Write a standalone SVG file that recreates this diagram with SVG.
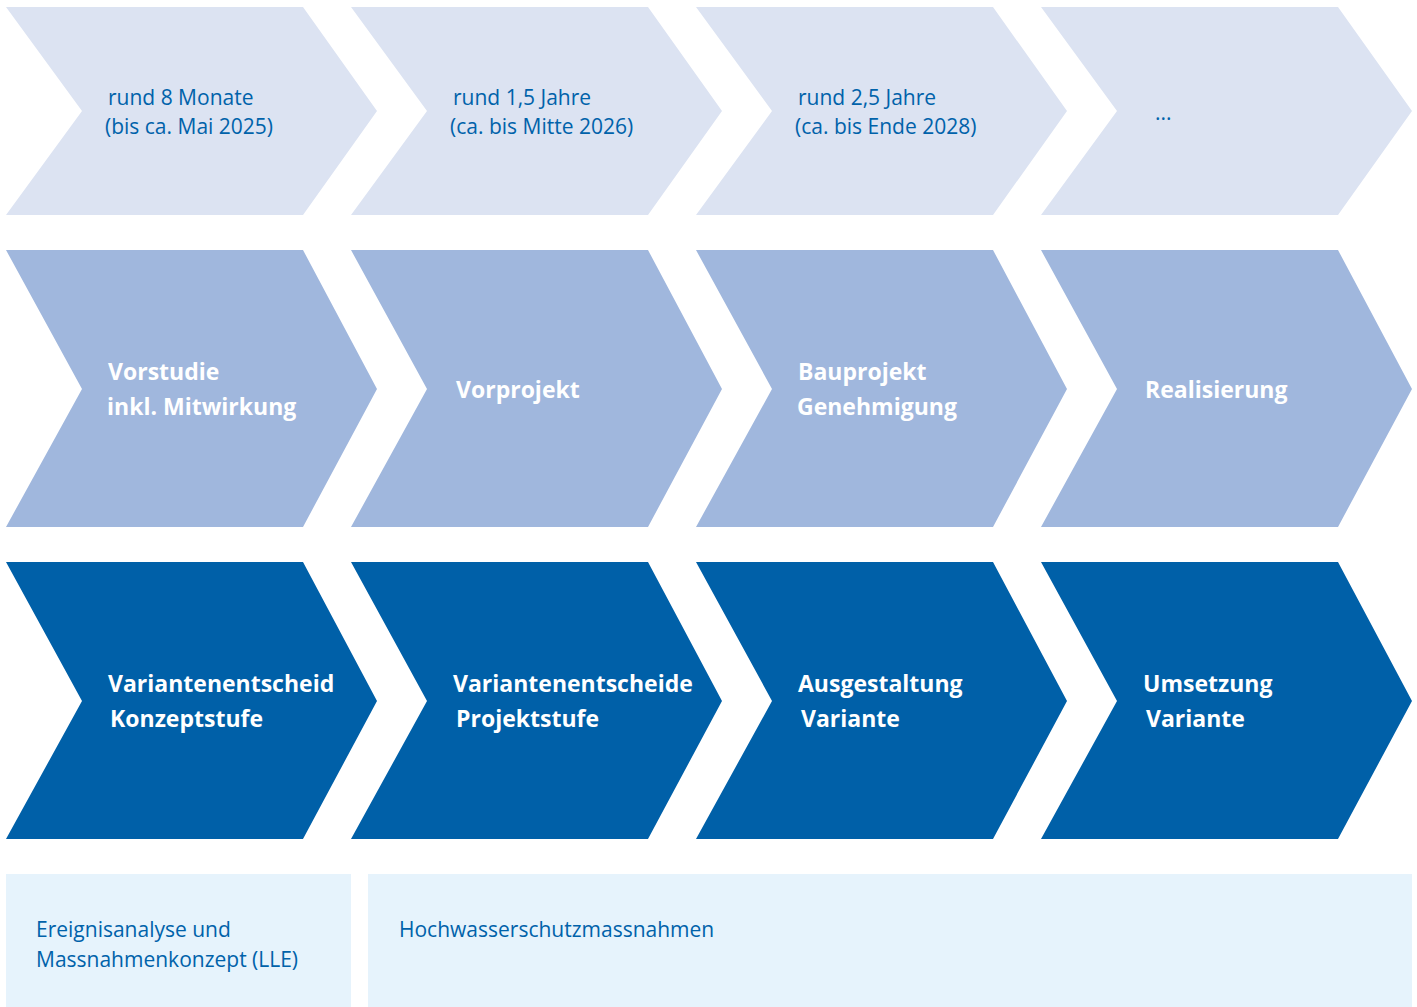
<svg xmlns="http://www.w3.org/2000/svg" width="1417" height="1007" viewBox="0 0 1417 1007">
<defs>
<style>
.r1{fill:#DCE3F2}
.r2{fill:#A0B7DD}
.r3{fill:#0060A8}
.bx{fill:#E6F3FC}
.t1{font-family:"Open Sans","Liberation Sans",sans-serif;font-size:21px;fill:#0062AA}
.tb{font-family:"Open Sans","Liberation Sans",sans-serif;font-size:23px;font-weight:bold;fill:#FFFFFF}
</style>
<polygon id="c1" points="0,7 297,7 371,111 297,215 0,215 76,111"/>
<polygon id="c2" points="0,250 297,250 371,389 297,527 0,527 76,389"/>
<polygon id="c3" points="0,562 297,562 371,701 297,839 0,839 76,701"/>
</defs>
<rect width="1417" height="1007" fill="#FFFFFF"/>
<g id="connectors"/>
<g id="row1">
<g id="dur1"><use href="#c1" x="6" class="r1"/><text class="t1"><tspan x="108" y="105">rund 8 Monate</tspan><tspan x="105" y="134">(bis ca. Mai 2025)</tspan></text></g>
<g id="dur2"><use href="#c1" x="351" class="r1"/><text class="t1"><tspan x="453" y="105">rund 1,5 Jahre</tspan><tspan x="450" y="134">(ca. bis Mitte 2026)</tspan></text></g>
<g id="dur3"><use href="#c1" x="696" class="r1"/><text class="t1"><tspan x="798" y="105">rund 2,5 Jahre</tspan><tspan x="795" y="134">(ca. bis Ende 2028)</tspan></text></g>
<g id="dur4"><use href="#c1" x="1041" class="r1"/><text class="t1" x="1155" y="120">...</text></g>
</g>
<g id="row2">
<g id="phase1"><use href="#c2" x="6" class="r2"/><text class="tb"><tspan x="108" y="380">Vorstudie</tspan><tspan x="107" y="415">inkl. Mitwirkung</tspan></text></g>
<g id="phase2"><use href="#c2" x="351" class="r2"/><text class="tb" x="456" y="398">Vorprojekt</text></g>
<g id="phase3"><use href="#c2" x="696" class="r2"/><text class="tb"><tspan x="798" y="380">Bauprojekt</tspan><tspan x="797" y="415">Genehmigung</tspan></text></g>
<g id="phase4"><use href="#c2" x="1041" class="r2"/><text class="tb" x="1145" y="398">Realisierung</text></g>
</g>
<g id="row3">
<g id="step1"><use href="#c3" x="6" class="r3"/><text class="tb"><tspan x="108" y="692">Variantenentscheid</tspan><tspan x="110" y="727">Konzeptstufe</tspan></text></g>
<g id="step2"><use href="#c3" x="351" class="r3"/><text class="tb"><tspan x="453" y="692">Variantenentscheide</tspan><tspan x="456" y="727">Projektstufe</tspan></text></g>
<g id="step3"><use href="#c3" x="696" class="r3"/><text class="tb"><tspan x="798" y="692">Ausgestaltung</tspan><tspan x="801" y="727">Variante</tspan></text></g>
<g id="step4"><use href="#c3" x="1041" class="r3"/><text class="tb"><tspan x="1143" y="692">Umsetzung</tspan><tspan x="1146" y="727">Variante</tspan></text></g>
</g>
<g id="box1"><rect class="bx" x="6" y="874" width="345" height="133"/><text class="t1"><tspan x="36" y="937">Ereignisanalyse und</tspan><tspan x="36" y="967">Massnahmenkonzept (LLE)</tspan></text></g>
<g id="box2"><rect class="bx" x="368" y="874" width="1044" height="133"/><text class="t1" x="399" y="937">Hochwasserschutzmassnahmen</text></g>
</svg>
